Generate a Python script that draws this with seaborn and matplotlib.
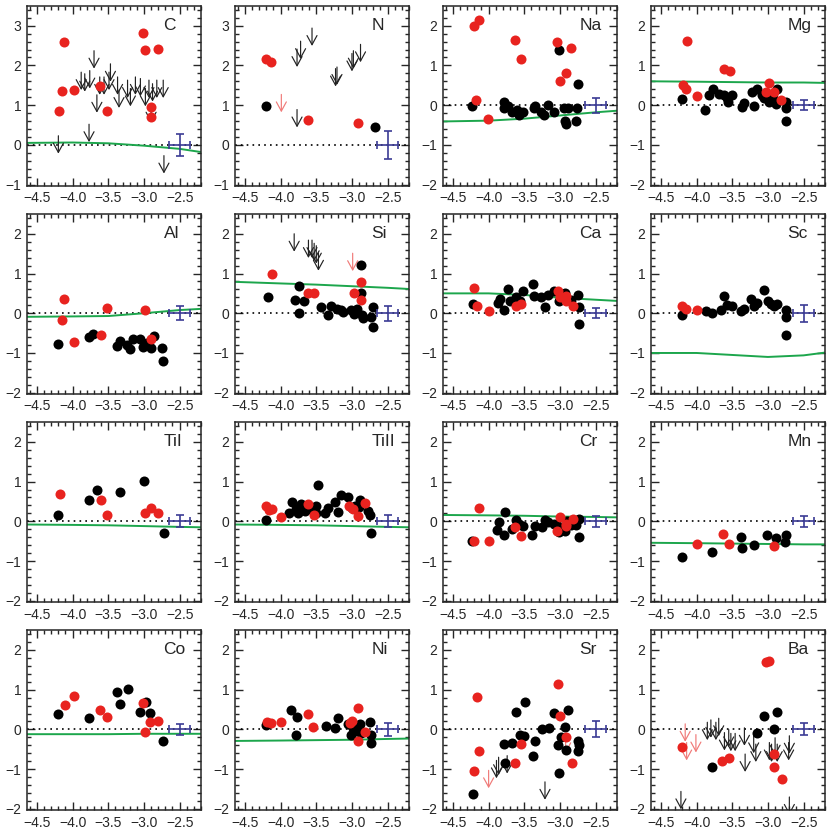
import pandas as pd
import seaborn as sns
import matplotlib.pyplot as plt
from matplotlib.ticker import MultipleLocator

sns.set_style("ticks")
plt.rcParams["font.family"] = ["Liberation Sans", "DejaVu Sans"]

RED = "#e8231f"
LIMRED = "#f07a78"
GREEN = "#1ca64c"
BLUE = "#3b3b95"

# x nodes of the model curves ([Fe/H])
model_feh = [-4.64, -4.0, -3.5, -3.0, -2.5, -2.2]

# ---- C
C_black = []
C_red = [(-4.19, 0.86), (-4.15, 1.36), (-4.12, 2.59), (-3.98, 1.38), (-3.61, 1.48), (-3.52, 0.85),
         (-3.02, 2.82), (-2.99, 2.39), (-2.80, 2.41), (-2.90, 0.95), (-2.90, 0.71)]
C_lim_black = [(-3.88, 1.83), (-3.83, 1.79), (-3.76, 1.87), (-3.66, 1.26), (-3.62, 1.71), (-3.56, 1.71),
               (-3.49, 1.83), (-3.47, 2.04), (-3.37, 1.71), (-3.35, 1.38), (-3.23, 1.63), (-3.19, 1.42),
               (-3.12, 1.71), (-3.05, 1.67), (-2.98, 1.42), (-2.93, 1.63), (-2.90, 1.01), (-2.88, 1.54),
               (-2.82, 1.63), (-2.73, 1.63), (-4.20, 0.23), (-3.77, 0.52), (-3.70, 2.37), (-2.72, -0.27)]
C_lim_red = []
model_C = [0.05, 0.06, 0.04, -0.02, -0.10, -0.18]

# ---- N
N_black = [(-4.21, 0.97), (-2.68, 0.44)]
N_red = [(-4.20, 2.16), (-4.13, 2.08), (-3.62, 0.62), (-2.92, 0.54)]
N_lim_black = [(-3.77, 2.41), (-3.72, 2.61), (-3.56, 2.94), (-3.77, 0.89), (-3.23, 1.92), (-3.21, 1.96),
               (-3.00, 2.30), (-2.98, 2.37), (-2.88, 2.53)]
N_lim_red = [(-3.99, 1.27)]
model_N = [-1.6, -1.55, -1.45, -1.35, -1.22, -1.08]

# ---- Na
Na_black = [(-4.23, -0.02), (-3.79, 0.08), (-3.78, -0.08), (-3.73, -0.02), (-3.67, -0.17), (-3.60, -0.12),
            (-3.57, -0.25), (-3.52, -0.18), (-3.37, -0.06), (-3.35, -0.02), (-3.26, -0.17), (-3.22, -0.26),
            (-3.17, 0.0), (-3.08, -0.18), (-3.02, 1.40), (-2.94, -0.08), (-2.93, -0.40), (-2.91, -0.48),
            (-2.89, -0.07), (-2.76, -0.07), (-2.77, -0.40), (-2.75, 0.54)]
Na_red = [(-4.20, 1.98), (-4.14, 2.15), (-4.17, 0.14), (-4.01, -0.36), (-3.63, 1.65), (-3.54, 1.17),
          (-3.04, 1.60), (-3.00, 0.62), (-2.92, 0.81), (-2.84, 1.45)]
model_Na = [-0.41, -0.39, -0.34, -0.26, -0.18, -0.14]

# ---- Mg
Mg_black = [(-4.21, 0.15), (-3.88, -0.11), (-3.83, 0.25), (-3.77, 0.40), (-3.69, 0.29), (-3.62, 0.25),
            (-3.58, 0.17), (-3.56, 0.07), (-3.51, 0.25), (-3.37, -0.04), (-3.34, 0.06), (-3.23, 0.32),
            (-3.16, 0.40), (-3.20, -0.02), (-3.09, 0.25), (-3.06, 0.17), (-3.01, 0.18), (-2.98, 0.08),
            (-2.93, 0.17), (-2.88, 0.41), (-2.89, 0.04), (-2.75, 0.08), (-2.74, -0.08), (-2.74, -0.40)]
Mg_red = [(-4.13, 1.62), (-4.19, 0.50), (-4.15, 0.40), (-3.99, 0.23), (-3.62, 0.90), (-3.53, 0.87),
          (-3.03, 0.33), (-2.99, 0.56), (-2.91, 0.33), (-2.82, 0.12)]
model_Mg = [0.60, 0.59, 0.58, 0.57, 0.57, 0.56]

# ---- Al
Al_black = [(-4.20, -0.78), (-3.77, -0.61), (-3.71, -0.51), (-3.38, -0.82), (-3.34, -0.69), (-3.24, -0.80),
            (-3.19, -0.90), (-3.15, -0.66), (-3.05, -0.64), (-3.01, -0.84), (-2.96, -0.74), (-2.90, -0.87),
            (-2.86, -0.58), (-2.75, -0.88), (-2.73, -1.21)]
Al_red = [(-4.12, 0.36), (-4.15, -0.18), (-3.98, -0.73), (-3.60, -0.54), (-3.52, 0.13), (-2.99, 0.09),
          (-2.90, -0.64)]
model_Al = [-0.09, -0.08, -0.07, 0.0, 0.08, 0.11]

# ---- Si
Si_black = [(-4.17, 0.42), (-3.80, 0.34), (-3.74, 0.69), (-3.74, 0.0), (-3.67, 0.31), (-3.44, 0.15),
            (-3.34, -0.04), (-3.30, 0.17), (-3.21, 0.11), (-3.16, 0.07), (-3.12, 0.02), (-3.02, 0.07),
            (-2.97, -0.03), (-2.93, 0.11), (-2.88, 0.50), (-2.88, 1.21), (-2.86, -0.04), (-2.84, -0.12),
            (-2.70, 0.15), (-2.70, -0.35), (-2.73, -0.10)]
Si_red = [(-4.12, 0.99), (-3.62, 0.50), (-3.53, 0.50), (-2.97, 0.50), (-2.88, 0.79), (-2.88, 0.34)]
Si_lim_black = [(-3.81, 2.00), (-3.61, 1.84), (-3.56, 1.84), (-3.53, 1.76), (-3.50, 1.70), (-3.47, 1.52)]
Si_lim_red = [(-2.99, 1.51)]
model_Si = [0.79, 0.75, 0.72, 0.68, 0.64, 0.61]

# ---- Ca
Ca_black = [(-4.22, 0.23), (-3.87, 0.25), (-3.84, 0.36), (-3.78, 0.08), (-3.73, 0.60), (-3.70, 0.31),
            (-3.62, 0.40), (-3.52, 0.55), (-3.56, 0.31), (-3.38, 0.74), (-3.36, 0.44), (-3.26, 0.40),
            (-3.21, 0.15), (-3.17, 0.46), (-3.08, 0.56), (-3.02, 0.31), (-2.93, 0.50), (-2.84, 0.33),
            (-2.75, 0.46), (-2.74, 0.15), (-2.73, -0.26)]
Ca_red = [(-4.20, 0.64), (-4.16, 0.19), (-4.00, 0.05), (-3.62, 0.19), (-3.54, 0.23), (-3.03, 0.55),
          (-3.00, 0.41), (-2.91, 0.44), (-2.91, 0.30), (-2.82, 0.17)]
model_Ca = [0.50, 0.50, 0.46, 0.39, 0.34, 0.31]

# ---- Sc
Sc_black = [(-4.21, -0.04), (-3.87, 0.05), (-3.78, 0.0), (-3.66, 0.08), (-3.61, 0.44), (-3.58, 0.21),
            (-3.51, 0.17), (-3.38, 0.05), (-3.34, 0.11), (-3.24, 0.36), (-3.20, 0.19), (-3.15, 0.27),
            (-3.05, 0.58), (-3.00, 0.30), (-2.96, 0.23), (-2.92, 0.17), (-2.88, 0.23), (-2.75, 0.07),
            (-2.74, -0.10), (-2.74, -0.55)]
Sc_red = [(-4.20, 0.17), (-4.15, 0.11), (-3.99, 0.09)]
model_Sc = [-1.0, -1.0, -1.05, -1.10, -1.06, -0.99]

# ---- TiI
TiI_black = [(-4.20, 0.17), (-3.77, 0.53), (-3.66, 0.80), (-3.34, 0.75), (-3.00, 1.02), (-2.72, -0.29)]
TiI_red = [(-4.18, 0.69), (-3.60, 0.53), (-3.52, 0.16), (-2.99, 0.22), (-2.90, 0.34), (-2.80, 0.20)]
model_TiI = [-0.08, -0.09, -0.10, -0.12, -0.14, -0.15]

# ---- TiII
TiII_black = [(-4.21, 0.03), (-3.84, 0.48), (-3.88, 0.20), (-3.78, 0.32), (-3.75, 0.20), (-3.71, 0.43),
              (-3.66, 0.26), (-3.62, 0.37), (-3.57, 0.30), (-3.51, 0.39), (-3.47, 0.92), (-3.51, 0.22),
              (-3.38, 0.20), (-3.33, 0.34), (-3.24, 0.48), (-3.19, 0.24), (-3.16, 0.67), (-3.06, 0.61),
              (-3.00, 0.34), (-2.96, 0.39), (-2.89, 0.53), (-2.90, 0.37), (-2.77, 0.26), (-2.75, 0.16),
              (-2.74, -0.30)]
TiII_red = [(-4.20, 0.39), (-4.16, 0.29), (-4.12, 0.32), (-3.99, 0.12), (-3.62, 0.43), (-3.53, 0.16),
            (-3.04, 0.39), (-2.98, 0.30), (-2.92, 0.14), (-2.82, 0.47)]
model_TiII = [-0.08, -0.09, -0.10, -0.12, -0.14, -0.15]

# ---- Cr
Cr_black = [(-4.23, -0.49), (-3.88, -0.23), (-3.85, -0.01), (-3.78, -0.34), (-3.77, 0.24), (-3.67, -0.20),
            (-3.62, 0.04), (-3.57, -0.07), (-3.52, -0.12), (-3.39, -0.35), (-3.35, -0.12), (-3.25, -0.15),
            (-3.21, 0.03), (-3.17, -0.02), (-3.09, -0.07), (-3.04, -0.09), (-3.02, -0.27), (-2.93, -0.25),
            (-2.90, 0.02), (-2.84, -0.09), (-2.77, -0.09), (-2.74, -0.39), (-2.74, 0.07)]
Cr_red = [(-4.20, -0.50), (-4.14, 0.34), (-4.00, -0.49), (-3.63, -0.15), (-3.54, -0.38), (-3.04, -0.25),
          (-3.00, 0.10), (-2.92, -0.12), (-2.91, -0.07), (-2.82, 0.07)]
model_Cr = [0.16, 0.15, 0.14, 0.12, 0.11, 0.10]

# ---- Mn
Mn_black = [(-4.21, -0.91), (-3.78, -0.78), (-3.38, -0.39), (-3.36, -0.66), (-3.20, -0.60), (-3.01, -0.35),
            (-2.89, -0.42), (-2.76, -0.53), (-2.74, -0.34)]
Mn_red = [(-3.99, -0.58), (-3.63, -0.31), (-3.55, -0.58), (-2.92, -0.62)]
model_Mn = [-0.54, -0.55, -0.56, -0.57, -0.58, -0.58]

# ---- Co
Co_black = [(-4.20, 0.39), (-3.77, 0.29), (-3.38, 0.95), (-3.34, 0.64), (-3.23, 1.01), (-3.05, 0.44),
            (-2.97, 0.70), (-2.91, 0.41), (-2.73, -0.30)]
Co_red = [(-4.11, 0.62), (-3.98, 0.84), (-3.62, 0.49), (-3.52, 0.31), (-3.02, 0.66), (-2.99, -0.07),
          (-2.91, 0.19), (-2.80, 0.22)]
model_Co = [-0.12, -0.12, -0.12, -0.11, -0.11, -0.11]

# ---- Ni
Ni_black = [(-4.21, 0.11), (-3.85, 0.49), (-3.77, 0.30), (-3.78, -0.14), (-3.36, 0.08), (-3.24, 0.04),
            (-3.20, 0.29), (-3.05, 0.14), (-3.02, -0.14), (-2.98, 0.04), (-2.93, -0.04), (-2.89, 0.14),
            (-2.90, 0.0), (-2.87, -0.10), (-2.75, 0.19), (-2.74, -0.15), (-2.74, -0.33)]
Ni_red = [(-4.19, 0.19), (-4.13, 0.16), (-3.99, 0.19), (-3.62, 0.39), (-3.54, 0.06), (-3.03, 0.16),
          (-3.00, 0.22), (-2.92, 0.53), (-2.91, -0.29), (-2.82, -0.07)]
model_Ni = [-0.29, -0.28, -0.27, -0.26, -0.24, -0.23]

# ---- Sr
Sr_black = [(-4.22, -1.63), (-3.78, -0.37), (-3.77, -0.85), (-3.67, -0.35), (-3.61, 0.45), (-3.56, -0.14),
            (-3.51, -0.16), (-3.49, 0.68), (-3.35, -0.29), (-3.38, -0.66), (-3.25, 0.0), (-3.16, 0.04),
            (-3.08, 0.41), (-3.03, -0.39), (-3.02, -1.09), (-2.98, -0.19), (-2.93, 0.06), (-2.89, 0.48),
            (-2.91, -0.53), (-2.75, -0.29), (-2.74, -0.40), (-2.75, -0.55)]
Sr_red = [(-4.21, -1.05), (-4.16, 0.82), (-4.13, -0.55), (-3.63, -0.85), (-3.54, -0.37), (-3.03, 1.15),
          (-3.00, 0.35), (-2.92, -0.19), (-2.83, -0.84)]
Sr_lim_black = [(-3.89, -0.78), (-3.86, -0.70), (-3.74, -0.66), (-3.21, -1.32)]
Sr_lim_red = [(-4.00, -1.03), (-2.92, -0.15)]

# ---- Ba
Ba_black = [(-3.78, -0.95), (-3.16, -0.08), (-3.06, 0.35), (-2.92, 0.02), (-2.87, 0.45)]
Ba_red = [(-4.20, -0.45), (-3.64, -0.80), (-3.55, -0.72), (-3.03, 1.70), (-2.99, 1.73), (-2.91, -0.62),
          (-2.91, -0.95), (-2.81, -1.26)]
Ba_lim_black = [(-4.22, -1.56), (-3.85, 0.18), (-3.80, 0.24), (-3.73, 0.18), (-3.69, 0.28), (-3.61, -0.08),
                (-3.55, 0.0), (-3.52, -0.10), (-3.46, -0.10), (-3.32, -0.62), (-3.33, 0.04), (-3.20, -0.15),
                (-3.17, -0.37), (-2.98, -0.33), (-2.95, -0.37), (-2.90, -0.21), (-2.87, -0.37),
                (-2.71, -0.33), (-2.70, -0.16), (-2.70, -1.70)]
Ba_lim_red = [(-4.16, 0.14), (-4.14, -0.33), (-4.01, -0.13)]

elements = ["C", "N", "Na", "Mg", "Al", "Si", "Ca", "Sc",
            "TiI", "TiII", "Cr", "Mn", "Co", "Ni", "Sr", "Ba"]
err_y = [0.28, 0.36, 0.19, 0.13, 0.17, 0.19, 0.12, 0.21,
         0.15, 0.15, 0.14, 0.14, 0.14, 0.16, 0.20, 0.15]
err_x = 0.15

panels = {
    "C": (C_black, C_red, C_lim_black, C_lim_red, model_C),
    "N": (N_black, N_red, N_lim_black, N_lim_red, model_N),
    "Na": (Na_black, Na_red, [], [], model_Na),
    "Mg": (Mg_black, Mg_red, [], [], model_Mg),
    "Al": (Al_black, Al_red, [], [], model_Al),
    "Si": (Si_black, Si_red, Si_lim_black, Si_lim_red, model_Si),
    "Ca": (Ca_black, Ca_red, [], [], model_Ca),
    "Sc": (Sc_black, Sc_red, [], [], model_Sc),
    "TiI": (TiI_black, TiI_red, [], [], model_TiI),
    "TiII": (TiII_black, TiII_red, [], [], model_TiII),
    "Cr": (Cr_black, Cr_red, [], [], model_Cr),
    "Mn": (Mn_black, Mn_red, [], [], model_Mn),
    "Co": (Co_black, Co_red, [], [], model_Co),
    "Ni": (Ni_black, Ni_red, [], [], model_Ni),
    "Sr": (Sr_black, Sr_red, Sr_lim_black, Sr_lim_red, None),
    "Ba": (Ba_black, Ba_red, Ba_lim_black, Ba_lim_red, None),
}

ARROW_LEN = 0.45


def draw_limits(ax, pts, color):
    # upper limits: open arrow pointing down from the limit value
    for x, y in pts:
        ann = ax.annotate("", xy=(x, y - ARROW_LEN), xytext=(x, y),
                          arrowprops=dict(arrowstyle="->,head_length=0.55,head_width=0.3", color=color,
                                          lw=0.85, shrinkA=0, shrinkB=0, mutation_scale=12),
                          annotation_clip=False)
        ann.arrow_patch.set_clip_path(ax.patch)


fig, axs = plt.subplots(4, 4, figsize=(8.3, 8.3), dpi=100)
plt.subplots_adjust(left=0.0325, right=0.994, top=0.993, bottom=0.024, wspace=0.195, hspace=0.156)

for i, el in enumerate(elements):
    ax = axs.flat[i]
    black, red, lim_black, lim_red, model = panels[el]

    ax.axhline(0, color="black", ls=(0, (1, 2.5)), lw=1.2, zorder=1)
    if model is not None:
        sns.lineplot(x=model_feh, y=model, color=GREEN, lw=1.4, ax=ax, zorder=2)

    draw_limits(ax, lim_black, "#222222")
    draw_limits(ax, lim_red, LIMRED)

    if black:
        df = pd.DataFrame(black, columns=["feh", "xfe"])
        sns.scatterplot(data=df, x="feh", y="xfe", color="black", s=52, linewidth=0, ax=ax, zorder=3)
    if red:
        df = pd.DataFrame(red, columns=["feh", "xfe"])
        sns.scatterplot(data=df, x="feh", y="xfe", color=RED, s=52, linewidth=0, ax=ax, zorder=4)

    ax.errorbar(-2.5, 0, xerr=err_x, yerr=err_y[i], color=BLUE, lw=1.2, capsize=3, capthick=1.2, zorder=5)

    ax.set_xlim(-4.64, -2.2)
    if el in ("C", "N"):
        ax.set_ylim(-1.03, 3.5)
    else:
        ax.set_ylim(-2.03, 2.5)
    ax.xaxis.set_major_locator(MultipleLocator(0.5))
    ax.xaxis.set_minor_locator(MultipleLocator(0.1))
    ax.yaxis.set_major_locator(MultipleLocator(1))
    ax.yaxis.set_minor_locator(MultipleLocator(0.2))
    ax.tick_params(which="both", direction="in", top=True, right=True, width=1.0, labelsize=10)
    ax.tick_params(which="major", length=6, pad=4)
    ax.tick_params(which="minor", length=3)
    ax.set_xlabel("")
    ax.set_ylabel("")
    for sp in ax.spines.values():
        sp.set_linewidth(1.1)
    ax.text(0.785, 0.89, el, transform=ax.transAxes, ha="left", va="center", fontsize=12.5)

plt.savefig("out.png", dpi=100)
